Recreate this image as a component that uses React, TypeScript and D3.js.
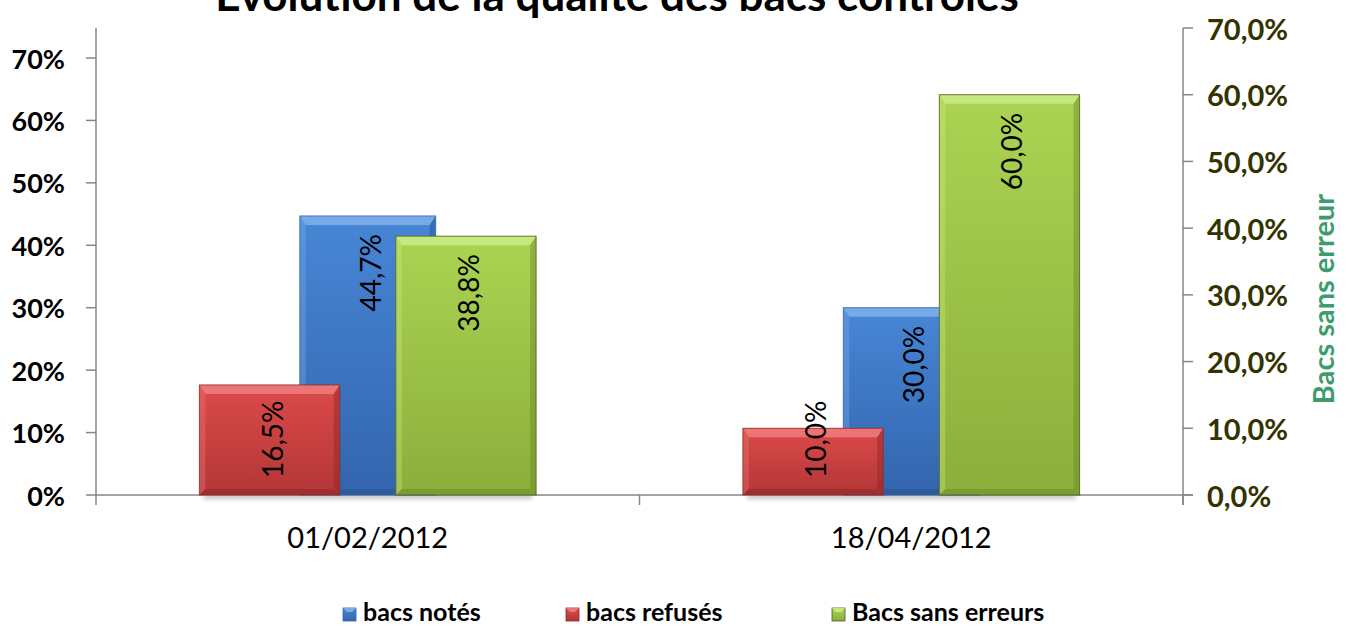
import React from "react";
import * as d3 from "d3";

const title = "Évolution de la qualité des bacs contrôlés";
const categories = ["01/02/2012", "18/04/2012"];
const notes = [0.447, 0.3]; // bacs notés (primary axis)
const refuses = [0.165, 0.1]; // bacs refusés (secondary axis)
const sansErreurs = [0.388, 0.6]; // Bacs sans erreurs (secondary axis)
const leftTicks = [0, 0.1, 0.2, 0.3, 0.4, 0.5, 0.6, 0.7];
const rightTicks = [0, 0.1, 0.2, 0.3, 0.4, 0.5, 0.6, 0.7];
const rightAxisTitle = "Bacs sans erreur";
const legendItems = ["bacs notés", "bacs refusés", "Bacs sans erreurs"];

const W = 1346;
const H = 626;
const FONT = "Lato, 'Open Sans', sans-serif";

type Pal = { id: string; top: string; bottom: string; light: string; dark: string; stroke: string };
const BLUE: Pal = { id: "blue", top: "#4786d6", bottom: "#3365ad", light: "#7fb0ec", dark: "#27508c", stroke: "#3465a8" };
const RED: Pal = { id: "red", top: "#dc4a4a", bottom: "#b33636", light: "#f07c7c", dark: "#8e2626", stroke: "#8e2a2a" };
const GREEN: Pal = { id: "green", top: "#aad452", bottom: "#8cae3c", light: "#cdeb86", dark: "#6a8a26", stroke: "#4e5e1c" };

function fmtLeft(v: number) {
  return `${Math.round(v * 100)}%`;
}
function fmtRight(v: number) {
  return `${(v * 100).toFixed(1).replace(".", ",")}%`;
}

function Bar({ x0, x1, y0, y1, pal }: { x0: number; x1: number; y0: number; y1: number; pal: Pal }) {
  const h = y1 - y0;
  const b = Math.min(9, h / 2, (x1 - x0) / 2);
  const bs = Math.min(6, h / 2);
  return (
    <g>
      <rect x={x0} y={y0} width={x1 - x0} height={h} fill={`url(#grad-${pal.id})`} />
      <polygon points={`${x0},${y0} ${x1},${y0} ${x1 - bs},${y0 + b} ${x0 + bs},${y0 + b}`} fill={pal.light} opacity={0.85} />
      <polygon points={`${x0},${y0} ${x0 + bs},${y0 + b} ${x0 + bs},${y1 - bs} ${x0},${y1}`} fill={pal.light} opacity={0.35} />
      <polygon points={`${x1},${y0} ${x1},${y1} ${x1 - bs},${y1 - bs} ${x1 - bs},${y0 + b}`} fill={pal.dark} opacity={0.45} />
      <polygon points={`${x0},${y1} ${x0 + bs},${y1 - bs} ${x1 - bs},${y1 - bs} ${x1},${y1}`} fill={pal.dark} opacity={0.5} />
      <rect x={x0} y={y0} width={x1 - x0} height={h} fill="none" stroke={pal.stroke} strokeWidth={1} opacity={0.8} />
    </g>
  );
}

export default function App() {
  const left = 96;
  const right = 1183;
  const base = 495;
  const x = d3.scaleBand<string>().domain(categories).range([left, right]).paddingInner(0).paddingOuter(0);
  const yL = d3.scaleLinear().domain([0, 0.7]).range([base, 58]);
  const yR = d3.scaleLinear().domain([0, 0.7]).range([base, 28]);
  const bw = x.bandwidth();

  // primary: 1 series, gap width 300%
  const wP = bw / (1 + 3);
  // secondary: 2 series, overlap -40%, gap width ~147%
  const ov = -0.4;
  const wS = bw / (2 - ov + 1.474);

  const bars: any[] = [];
  const labels: any[] = [];
  const shadows: any[] = [];
  const lblSize = 28;

  categories.forEach((c, i) => {
    const cx = (x(c) as number) + bw / 2;
    const bx0 = cx - wP / 2;
    const by = yL(notes[i]);
    bars.push({ key: `b${i}`, x0: bx0, x1: bx0 + wP, y0: by, y1: base, pal: BLUE, order: 0 });
    labels.push({ key: `lb${i}`, x: cx, y: by + 18, anchor: "end", text: fmtRight(notes[i]) });
    const rx0 = cx - wS - (-ov * wS) / 2;
    const ry = yR(refuses[i]);
    bars.push({ key: `r${i}`, x0: rx0, x1: rx0 + wS, y0: ry, y1: base, pal: RED, order: 1 });
    labels.push({ key: `lr${i}`, x: rx0 + wS / 2, y: base - 17, anchor: "start", text: fmtRight(refuses[i]) });
    const gx0 = cx + (-ov * wS) / 2;
    const gy = yR(sansErreurs[i]);
    bars.push({ key: `g${i}`, x0: gx0, x1: gx0 + wS, y0: gy, y1: base, pal: GREEN, order: 2 });
    labels.push({ key: `lg${i}`, x: gx0 + wS / 2, y: gy + 18, anchor: "end", text: fmtRight(sansErreurs[i]) });
    shadows.push({ key: `s${i}`, x0: rx0, x1: gx0 + wS });
  });

  const pals = [BLUE, RED, GREEN];
  const legendPal = [BLUE, RED, GREEN];
  const legendX = [343, 566, 832];

  return (
    <svg width={W} height={H} style={{ position: "absolute", left: 0, top: 0, background: "#fff" }} fontFamily={FONT}>
      <defs>
        {pals.map((p) => (
          <linearGradient key={p.id} id={`grad-${p.id}`} x1="0" y1="0" x2="0" y2="1">
            <stop offset="0" stopColor={p.top} />
            <stop offset="1" stopColor={p.bottom} />
          </linearGradient>
        ))}
        <filter id="blur" x="-20%" y="-200%" width="140%" height="500%">
          <feGaussianBlur stdDeviation="2" />
        </filter>
      </defs>

      {/* title (cut off at the top, as in the reference) */}
      <text x={617} y={11} textAnchor="middle" fontSize={44} fontWeight="bold" fill="#000">
        {title}
      </text>

      {shadows.map((s) => (
        <rect key={s.key} x={s.x0 + 4} y={base - 1} width={s.x1 - s.x0 - 8} height={5} fill="#888" opacity={0.5} filter="url(#blur)" />
      ))}

      {/* left axis */}
      <line x1={left} x2={left} y1={28} y2={base} stroke="#868686" strokeWidth={1.5} />
      {leftTicks.map((t) => (
        <g key={`lt${t}`}>
          <line x1={left - 10} x2={left} y1={yL(t)} y2={yL(t)} stroke="#868686" strokeWidth={1.5} />
          <text x={65} y={yL(t)} textAnchor="end" dominantBaseline="central" fontSize={27} fontWeight="bold" fill="#000">
            {fmtLeft(t)}
          </text>
        </g>
      ))}

      {/* right axis */}
      <line x1={right} x2={right} y1={yR(0.7)} y2={base + 10} stroke="#868686" strokeWidth={1.5} />
      {rightTicks.map((t) => (
        <g key={`rt${t}`}>
          <line x1={right} x2={right + 10} y1={yR(t)} y2={yR(t)} stroke="#868686" strokeWidth={1.5} />
          <text x={1207} y={yR(t)} dominantBaseline="central" fontSize={29} fontWeight="bold" fill="#333300">
            {fmtRight(t)}
          </text>
        </g>
      ))}
      <text
        transform={`translate(1322,${299}) rotate(-90)`}
        textAnchor="middle"
        dominantBaseline="central"
        fontSize={29}
        fontWeight="bold"
        fill="#3c9c6c"
      >
        {rightAxisTitle}
      </text>

      {/* x axis */}
      <line x1={left} x2={right + 10} y1={base} y2={base} stroke="#868686" strokeWidth={1.5} />
      {[left, left + bw, right].map((t, i) => (
        <line key={`xt${i}`} x1={t} x2={t} y1={base} y2={base + 10} stroke="#868686" strokeWidth={1.5} />
      ))}
      {categories.map((c) => (
        <text key={c} x={(x(c) as number) + bw / 2} y={548} textAnchor="middle" fontSize={29} fill="#000">
          {c}
        </text>
      ))}

      {bars
        .slice()
        .sort((a, b) => a.order - b.order)
        .map((b) => (
          <Bar key={b.key} x0={b.x0} x1={b.x1} y0={b.y0} y1={b.y1} pal={b.pal} />
        ))}

      {labels.map((l) => (
        <text
          key={l.key}
          transform={`translate(${l.x + 2},${l.y}) rotate(-90)`}
          textAnchor={l.anchor}
          dominantBaseline="central"
          fontSize={lblSize}
          fill="#000"
        >
          {l.text}
        </text>
      ))}

      {/* legend */}
      {legendItems.map((name, i) => (
        <g key={name}>
          <rect x={legendX[i]} y={608} width={13} height={13} fill={`url(#grad-${legendPal[i].id})`} stroke={legendPal[i].stroke} strokeWidth={0.8} />
          <polygon
            points={`${legendX[i]},608 ${legendX[i] + 13},608 ${legendX[i] + 9},612 ${legendX[i] + 4},612`}
            fill={legendPal[i].light}
            opacity={0.9}
          />
          <text x={legendX[i] + 20} y={621} fontSize={25} fontWeight="bold" fill="#000">
            {name}
          </text>
        </g>
      ))}
    </svg>
  );
}
